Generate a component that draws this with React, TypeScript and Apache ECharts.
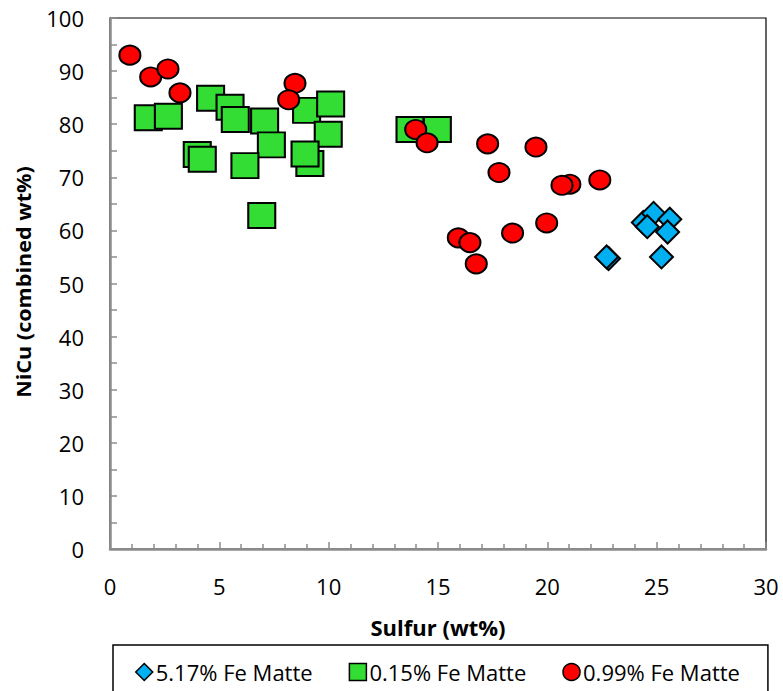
import React, { useEffect, useRef } from "react";
import * as echarts from "echarts";

// Sulfur (wt%) vs combined NiCu (wt%) for three matte compositions
const feMatte517: [number, number][] = [
  [24.39, 61.5],
  [24.86, 63.2],
  [24.57, 60.7],
  [25.6, 62.1],
  [25.5, 59.7],
  [22.8, 54.7],
  [22.71, 55.0],
  [25.22, 55.0],
];

const feMatte015: [number, number][] = [
  [1.75, 81.2],
  [2.67, 81.5],
  [4.6, 84.9],
  [5.49, 83.2],
  [5.73, 80.9],
  [7.07, 80.6],
  [3.99, 74.3],
  [4.22, 73.4],
  [7.38, 76.1],
  [6.17, 72.2],
  [6.94, 62.8],
  [8.99, 82.6],
  [10.09, 83.8],
  [9.98, 78.1],
  [9.14, 72.6],
  [8.92, 74.4],
  [13.72, 79.0],
  [14.97, 79.0],
];

const feMatte099: [number, number][] = [
  [0.91, 93.0],
  [1.86, 88.9],
  [2.65, 90.4],
  [3.2, 85.9],
  [8.46, 87.7],
  [8.17, 84.6],
  [13.98, 79.0],
  [14.5, 76.5],
  [17.27, 76.3],
  [19.48, 75.7],
  [17.79, 70.9],
  [21.03, 68.7],
  [20.67, 68.5],
  [22.4, 69.5],
  [19.97, 61.4],
  [18.41, 59.5],
  [15.93, 58.6],
  [16.46, 57.7],
  [16.75, 53.7],
];

const seriesNames = ["5.17% Fe Matte", "0.15% Fe Matte", "0.99% Fe Matte"];
const xTitle = "Sulfur (wt%)";
const yTitle = "NiCu (combined wt%)";

const FONT = "'Open Sans', 'Noto Sans', sans-serif";
const AXIS_GRAY = "#8c8c8c";

export default function App() {
  const ref = useRef<HTMLDivElement>(null);

  useEffect(() => {
    if (!ref.current) return;
    const chart = echarts.init(ref.current, undefined, { renderer: "svg" });
    const border = { borderColor: "#000", borderWidth: 1.5 };
    chart.setOption({
      animation: false,
      backgroundColor: "#fff",
      textStyle: { fontFamily: FONT },
      grid: {
        left: 110,
        right: 17,
        top: 18,
        bottom: 142,
        show: true,
        borderColor: "#000",
        borderWidth: 1.2,
        backgroundColor: "transparent",
      },
      graphic: [
        {
          type: "text",
          x: 23,
          y: 282,
          rotation: Math.PI / 2,
          scaleX: 1.08,
          style: {
            text: yTitle,
            font: `bold 20px ${FONT}`,
            fill: "#000",
            textAlign: "center",
            textVerticalAlign: "middle",
          },
        },
        {
          type: "text",
          x: 438,
          y: 627,
          style: {
            text: xTitle,
            font: `bold 22px ${FONT}`,
            fill: "#000",
            textAlign: "center",
            textVerticalAlign: "middle",
          },
        },
      ],
      xAxis: {
        type: "value",
        min: 0,
        max: 30,
        interval: 5,
        axisLine: { show: true, lineStyle: { color: AXIS_GRAY, width: 2.5 } },
        axisTick: { show: true, inside: true, length: 7, lineStyle: { color: AXIS_GRAY, width: 1.5 } },
        minorTick: { show: true, splitNumber: 5, length: 5, lineStyle: { color: AXIS_GRAY, width: 1.5 } },
        splitLine: { show: false },
        axisLabel: { fontFamily: FONT, fontSize: 22, color: "#000", margin: 26 },
      },
      yAxis: {
        type: "value",
        min: 0,
        max: 100,
        interval: 10,
        axisLine: { show: true, lineStyle: { color: AXIS_GRAY, width: 2.5 } },
        axisTick: { show: true, inside: true, length: 7, lineStyle: { color: AXIS_GRAY, width: 1.5 } },
        minorTick: { show: true, splitNumber: 2, length: 7, lineStyle: { color: AXIS_GRAY, width: 1.5 } },
        splitLine: { show: false },
        axisLabel: { fontFamily: FONT, fontSize: 22, color: "#000", margin: 26 },
      },
      legend: {
        left: 113,
        top: 645,
        orient: "horizontal",
        padding: [16, 28, 20, 22],
        borderColor: "#000",
        borderWidth: 1.5,
        itemWidth: 17,
        itemHeight: 17,
        itemGap: 36,
        textStyle: { fontFamily: FONT, fontSize: 22, color: "#000", padding: [0, 0, 0, -2] },
        data: [
          { name: seriesNames[0], icon: "diamond", itemStyle: { color: "#00B0F0", ...border } },
          { name: seriesNames[1], icon: "rect", itemStyle: { color: "#33DD33", ...border } },
          { name: seriesNames[2], icon: "circle", itemStyle: { color: "#FF0000", ...border } },
        ],
      },
      series: [
        {
          name: seriesNames[0],
          type: "scatter",
          data: feMatte517,
          symbol: "diamond",
          symbolSize: [23, 23],
          itemStyle: { color: "#00B0F0", borderColor: "#000", borderWidth: 2, opacity: 1 },
        },
        {
          name: seriesNames[1],
          type: "scatter",
          data: feMatte015,
          symbol: "rect",
          symbolSize: [27, 25],
          itemStyle: { color: "#33DD33", borderColor: "#000", borderWidth: 2, opacity: 1 },
        },
        {
          name: seriesNames[2],
          type: "scatter",
          data: feMatte099,
          symbol: "circle",
          symbolSize: [21, 19],
          itemStyle: { color: "#FF0000", borderColor: "#000", borderWidth: 2, opacity: 1 },
        },
      ],
    });
    return () => chart.dispose();
  }, []);

  return <div ref={ref} style={{ width: 783, height: 691, position: "absolute", left: 0, top: 0 }} />;
}
